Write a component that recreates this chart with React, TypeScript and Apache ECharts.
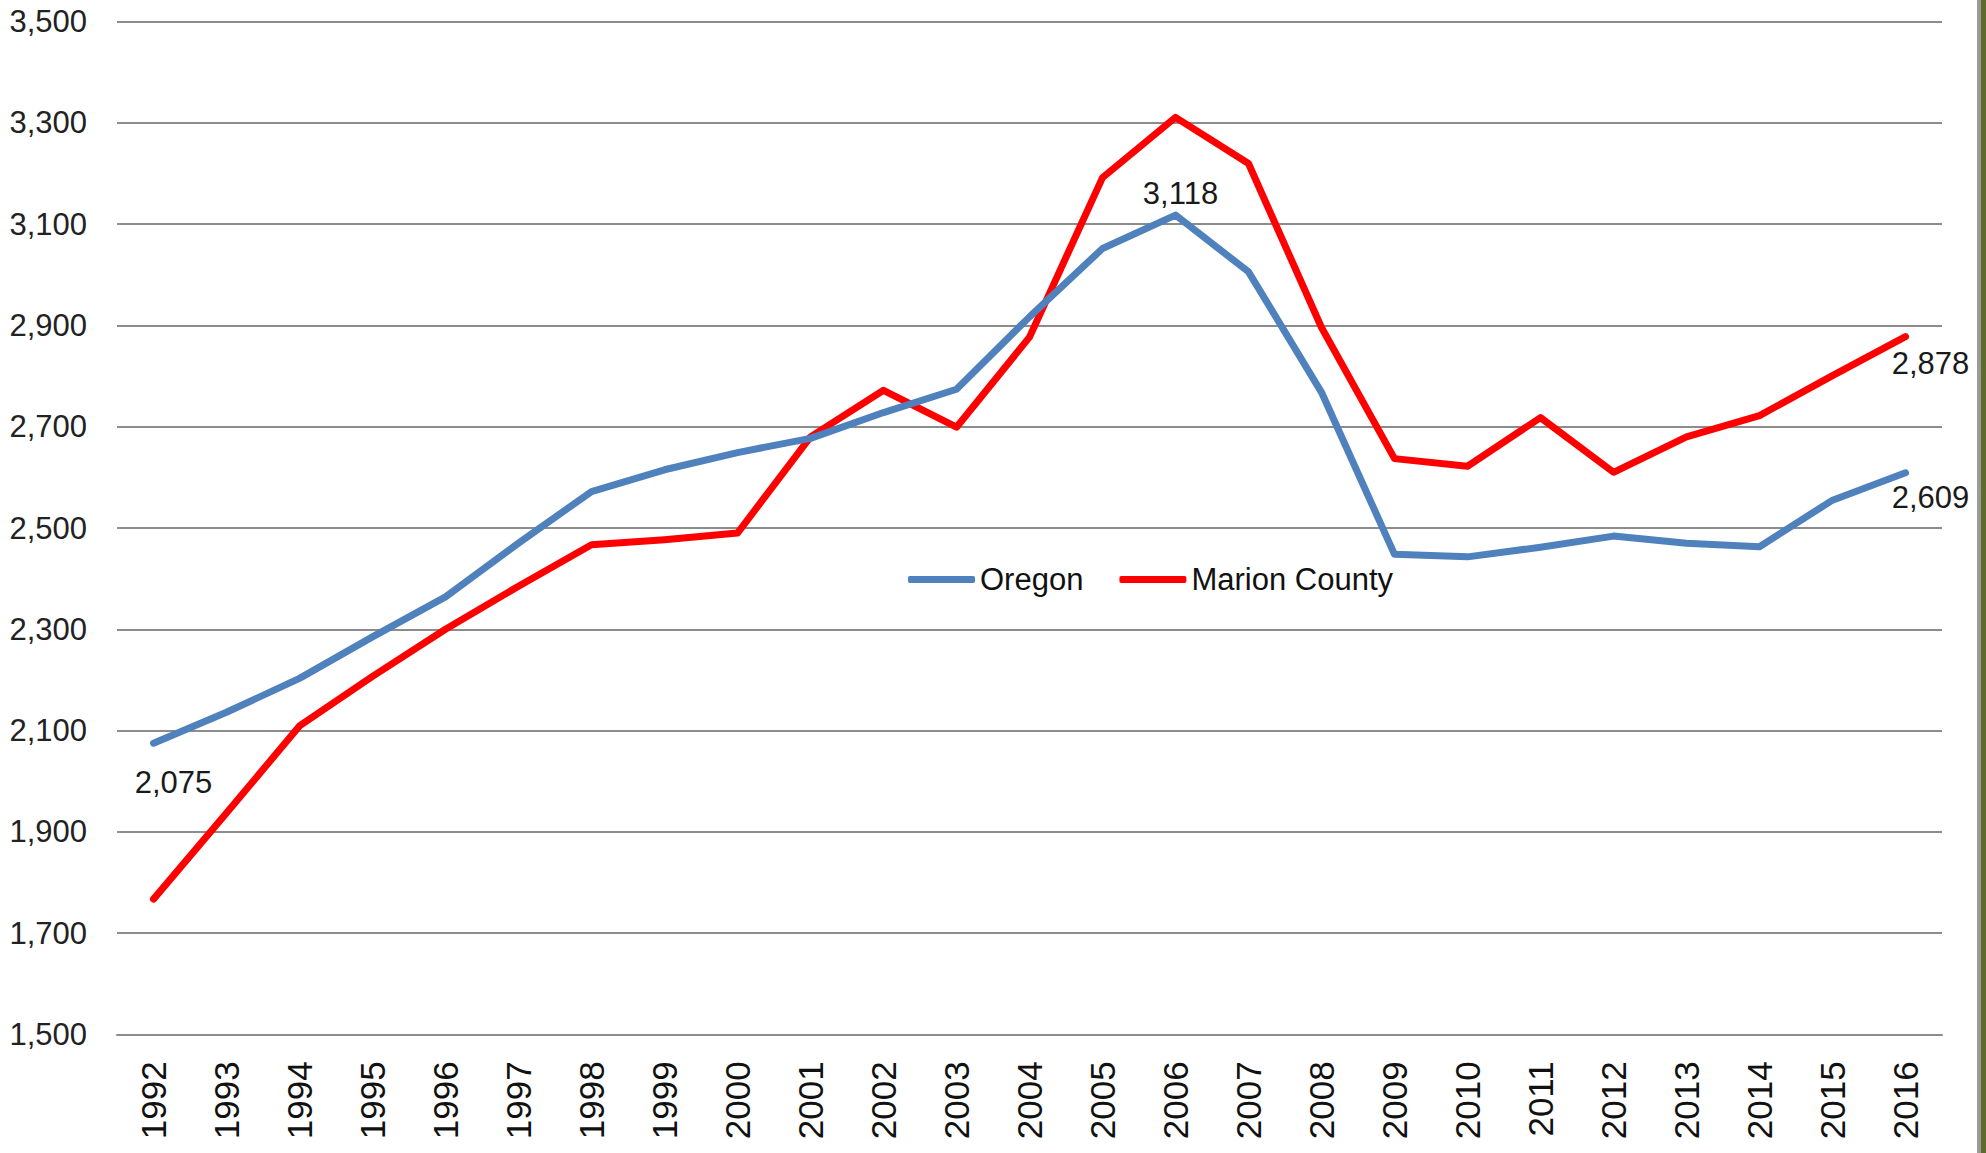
import React, { useEffect, useRef } from "react";
import * as echarts from "echarts";

const years = [
  "1992", "1993", "1994", "1995", "1996", "1997", "1998", "1999", "2000",
  "2001", "2002", "2003", "2004", "2005", "2006", "2007", "2008", "2009",
  "2010", "2011", "2012", "2013", "2014", "2015", "2016",
];

const oregon = [
  2075, 2136, 2203, 2285, 2364, 2470, 2572, 2615, 2649, 2677, 2728, 2774,
  2917, 3052, 3118, 3006, 2768, 2448, 2443, 2462, 2484, 2470, 2463, 2555, 2609,
];

const marion = [
  1767, 1937, 2109, 2207, 2300, 2385, 2467, 2477, 2490, 2680, 2772, 2699,
  2877, 3192, 3311, 3220, 2896, 2637, 2622, 2718, 2610, 2680, 2722, 2801, 2878,
];

const seriesNames = ["Oregon", "Marion County"];
const yMin = 1500;
const yMax = 3500;
const yStep = 200;

// indices of points that carry a value label
const oregonLabelled = [0, 14, 24];
const marionLabelled = [24];

const fmt = (v: number) =>
  String(v).replace(/\B(?=(\d{3})+(?!\d))/g, ",");

const FONT = "'Liberation Sans', Arial, sans-serif";

const labelOffsets: Record<string, [number, number]> = {
  "o0": [20, 39],
  "o14": [5, -22],
  "o24": [25, 25],
  "m24": [25, 27],
};

function buildData(values: number[], labelled: number[], key: string) {
  return values.map((v, i) => {
    if (!labelled.includes(i)) return v;
    return {
      value: v,
      label: {
        show: true,
        position: "inside",
        offset: labelOffsets[key + i],
        formatter: () => fmt(v),
        fontFamily: FONT,
        fontSize: 31,
        color: "#1a1a1a",
      },
    };
  });
}

export default function App() {
  const ref = useRef<HTMLDivElement>(null);

  useEffect(() => {
    document.body.style.margin = "0";
    const chart = echarts.init(ref.current!, null, { renderer: "svg" });
    const lineCommon = {
      type: "line",
      symbol: "circle",
      symbolSize: 0,
      showSymbol: true,
      showAllSymbol: true,
      clip: false,
      label: { show: false },
      emphasis: { disabled: true },
    };
    chart.setOption({
      animation: false,
      backgroundColor: "#ffffff",
      grid: { left: 117, right: 44, top: 21.7, bottom: 118.7 },
      legend: {
        data: seriesNames,
        left: 908,
        top: 564,
        padding: 0,
        itemGap: 36,
        itemWidth: 67,
        itemHeight: 7,
        icon: "roundRect",
        textStyle: { fontFamily: FONT, fontSize: 31, color: "#111" },
      },
      xAxis: {
        type: "category",
        data: years,
        boundaryGap: true,
        axisLine: { show: true, lineStyle: { color: "#8c8c8c", width: 2 } },
        axisTick: { show: false },
        axisLabel: {
          rotate: 90,
          margin: 27,
          fontFamily: FONT,
          fontSize: 35,
          color: "#111",
          interval: 0,
        },
      },
      yAxis: {
        type: "value",
        min: yMin,
        max: yMax,
        interval: yStep,
        axisLine: { show: false },
        axisTick: { show: false },
        axisLabel: {
          margin: 30,
          formatter: (v: number) => fmt(v),
          fontFamily: FONT,
          fontSize: 31,
          color: "#222",
        },
        splitLine: { show: true, lineStyle: { color: "#8c8c8c", width: 2 } },
      },
      graphic: [
        {
          type: "rect",
          shape: { x: 1977, y: 0, width: 4, height: 1153 },
          style: { fill: "#9a9a9a" },
        },
        {
          type: "rect",
          shape: { x: 1981, y: 0, width: 5, height: 1153 },
          style: { fill: "#5f6b2c" },
        },
      ],
      series: [
        {
          ...lineCommon,
          name: seriesNames[0],
          data: buildData(oregon, oregonLabelled, "o"),
          itemStyle: { color: "#4f81bd" },
          lineStyle: { color: "#4f81bd", width: 7, join: "round", cap: "round" },
          z: 3,
        },
        {
          ...lineCommon,
          name: seriesNames[1],
          data: buildData(marion, marionLabelled, "m"),
          itemStyle: { color: "#ff0000" },
          lineStyle: { color: "#ff0000", width: 7, join: "round", cap: "round" },
          z: 2,
        },
      ],
    });
    return () => chart.dispose();
  }, []);

  return <div ref={ref} style={{ width: 1986, height: 1153 }} />;
}
